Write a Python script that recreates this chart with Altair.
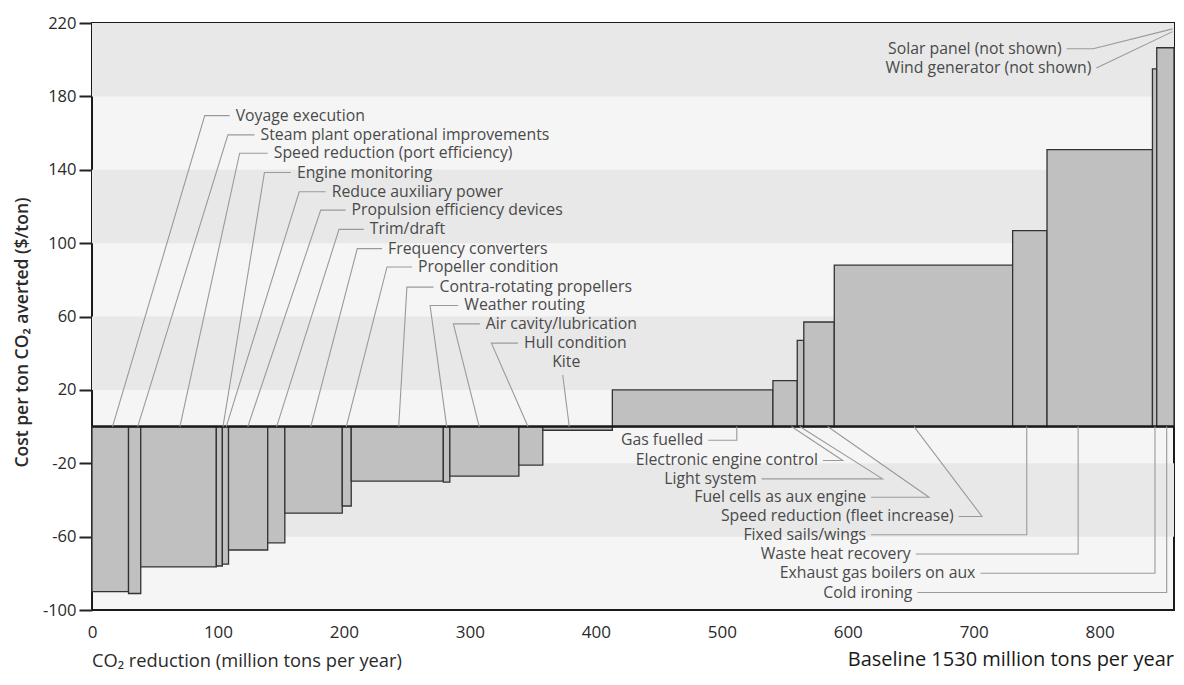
import altair as alt
import pandas as pd

# ---------------- data ----------------
measures = [
    "Voyage execution", "Steam plant operational improvements",
    "Speed reduction (port efficiency)", "Engine monitoring",
    "Reduce auxiliary power", "Propulsion efficiency devices", "Trim/draft",
    "Frequency converters", "Propeller condition", "Contra-rotating propellers",
    "Weather routing", "Air cavity/lubrication", "Hull condition", "Kite",
    "Gas fuelled", "Electronic engine control", "Light system",
    "Fuel cells as aux engine", "Speed reduction (fleet increase)",
    "Fixed sails/wings", "Waste heat recovery", "Exhaust gas boilers on aux",
    "Cold ironing",
]
reduction = [29.0, 9.7, 60.0, 4.8, 4.9, 31.1, 13.6, 45.6, 7.1, 73.1, 5.2, 54.8,
             19.0, 55.2, 127.5, 19.3, 5.2, 24.2, 141.6, 27.3, 83.7, 3.4, 13.7]
cost = [-90, -91, -76.5, -76, -75, -67.3, -63.4, -47.2, -43.3, -29.7, -30.3,
        -27, -21, -2, 20, 25, 47, 57, 88, 106.8, 151, 195, 206.5]
not_shown = ["Solar panel (not shown)", "Wind generator (not shown)"]

x_ticks = [0, 100, 200, 300, 400, 500, 600, 700, 800]
y_ticks = [-100, -60, -20, 20, 60, 100, 140, 180, 220]
band_lo = [-60, 20, 100, 180]
band_size = 40

# ---------------- annotation layout (data units) ----------------
top_n = 13
top_label_y = [169.5, 159, 149, 138.5, 128, 118, 107.5, 97, 87, 76, 66, 56, 45.5]
top_elbow_x = [89.5, 107.9, 117.2, 136.9, 164.5, 181.6, 196.1, 210.6, 234.2,
               250.0, 268.4, 286.9, 317.1]
top_line_end_x = [109.3, 129.0, 139.5, 157.9, 185.5, 201.3, 215.8, 230.3, 254.0,
                  271.1, 290.8, 307.9, 338.2]
top_target_x = [16.3, 36.3, 69.8, 104.0, 106.6, 123.7, 146.6, 173.7, 201.9,
                243.5, 281.6, 307.4, 346.1]
kite_label_xy = [376.5, 35.3]
kite_line_x = [378.9, 373.7]
kite_line_y = [0, 28.1]

bottom_label_y = [-7.5, -18.5, -28.5, -38.5, -49, -59, -69.5, -80, -90.5]
bottom_line_start_x = [489.2, 580.3, 531.6, 618.5, 688.1, 618.5, 654.0, 705.3, 655.3]
bottom_corner_x = [511.9, 596.0, 627.6, 664.5, 706.6, 742.1, 782.9, 843.9, 853.2]
bottom_target_x = [511.9, 555.3, 561.9, 584.0, 652.6, 742.1, 782.9, 843.9, 853.2]

ns_label_y = [206, 195.5]
ns_line_x = [[773.7, 794.8, 857.9], [797.4, 857.9]]
ns_line_y = [[206, 206, 216.8], [195.5, 215.3]]

# ---------------- tables ----------------
ends = pd.Series(reduction).cumsum()
bars = pd.DataFrame({
    "measure": measures,
    "start": ends - pd.Series(reduction),
    "end": ends,
    "cost": cost,
    "base": 0.0,
})
x_max = float(ends.iloc[-1])

bands = pd.DataFrame({"lo": band_lo, "hi": [b + band_size for b in band_lo]})

pts = []
texts = []
for i in range(top_n):
    for k, (xx, yy) in enumerate([(top_target_x[i], 0), (top_elbow_x[i], top_label_y[i]),
                                   (top_line_end_x[i], top_label_y[i])]):
        pts.append({"id": f"t{i}", "ord": k, "x": xx, "y": yy})
    texts.append({"label": measures[i], "x": top_line_end_x[i], "y": top_label_y[i], "side": "top"})
for k in range(2):
    pts.append({"id": "kite", "ord": k, "x": kite_line_x[k], "y": kite_line_y[k]})
for j in range(len(bottom_label_y)):
    i = 14 + j
    for k, (xx, yy) in enumerate([(bottom_target_x[j], 0), (bottom_corner_x[j], bottom_label_y[j]),
                                   (bottom_line_start_x[j], bottom_label_y[j])]):
        pts.append({"id": f"b{j}", "ord": k, "x": xx, "y": yy})
    texts.append({"label": measures[i], "x": bottom_line_start_x[j], "y": bottom_label_y[j], "side": "bottom"})
for j in range(2):
    for k in range(len(ns_line_x[j])):
        pts.append({"id": f"n{j}", "ord": k, "x": ns_line_x[j][k], "y": ns_line_y[j][k]})
    texts.append({"label": not_shown[j], "x": ns_line_x[j][0], "y": ns_label_y[j], "side": "bottom"})
lines = pd.DataFrame(pts)
labels = pd.DataFrame(texts)
kite = pd.DataFrame({"label": [measures[13]], "x": [kite_label_xy[0]], "y": [kite_label_xy[1]]})
zero = pd.DataFrame({"y": [0.0]})

# ---------------- scales / axes ----------------
FONT = "Open Sans"
LABEL_SIZE = 15.8
W, H = 1082, 587
xs = alt.Scale(domain=[0, x_max], nice=False, zero=False)
ys = alt.Scale(domain=[y_ticks[0], y_ticks[-1]], nice=False, zero=False)
xaxis = alt.Axis(values=x_ticks, ticks=False, tickSize=0, domain=False, grid=False,
                 labelFlush=False, labelFont=FONT, labelFontSize=17, labelColor="#2a2a2a",
                 labelPadding=14, title=None)
yaxis = alt.Axis(values=y_ticks, tickSize=13, tickWidth=2, tickColor="#222",
                 domain=False, grid=False, labelFont=FONT, labelFontSize=16.5,
                 labelColor="#2a2a2a", labelPadding=3,
                 labelExpr="'' + datum.value",
                 title="Cost per ton CO₂ averted ($/ton)", titleFont=FONT,
                 titleFontSize=17.5, titleColor="#2a2a2a", titleFontWeight=600,
                 titleX=-70, titleY=309, titleBaseline="middle")


def X(f):
    return alt.X(f, type="quantitative", scale=xs, axis=xaxis)


def Y(f):
    return alt.Y(f, type="quantitative", scale=ys, axis=yaxis)


band_layer = alt.Chart(bands).mark_rect(fill="#e8e8e8").encode(
    x=alt.value(0), x2=alt.value("width"), y=Y("lo"), y2="hi")

bar_layer = alt.Chart(bars).mark_rect(fill="#c0c0c0", stroke="#333", strokeWidth=1.3).encode(
    x=X("start"), x2="end", y=Y("base"), y2="cost", tooltip=["measure", "cost"])

zero_layer = alt.Chart(zero).mark_rule(color="#1a1a1a", strokeWidth=2.5).encode(y=Y("y"))

line_layer = alt.Chart(lines).mark_line(color="#9a9a9a", strokeWidth=1.1).encode(
    x=X("x"), y=Y("y"), detail="id:N", order="ord:Q")

top_text = alt.Chart(labels[labels.side == "top"]).mark_text(
    align="left", baseline="middle", dx=6, font=FONT, fontSize=LABEL_SIZE, color="#4a4a4a").encode(
    x=X("x"), y=Y("y"), text="label:N")

bottom_text = alt.Chart(labels[labels.side == "bottom"]).mark_text(
    align="right", baseline="middle", dx=-5, font=FONT, fontSize=LABEL_SIZE, color="#4a4a4a").encode(
    x=X("x"), y=Y("y"), text="label:N")

kite_text = alt.Chart(kite).mark_text(
    align="center", baseline="middle", font=FONT, fontSize=LABEL_SIZE, color="#4a4a4a").encode(
    x=X("x"), y=Y("y"), text="label:N")

xtitle = alt.Chart(pd.DataFrame({"t": ["CO₂ reduction (million tons per year)"]})).mark_text(
    align="left", baseline="alphabetic", font=FONT, fontSize=18.3, color="#2a2a2a").encode(
    x=alt.value(0), y=alt.value(H + 57), text="t:N")

baseline_title = alt.Chart(pd.DataFrame({"t": ["Baseline 1530 million tons per year"]})).mark_text(
    align="right", baseline="alphabetic", font=FONT, fontSize=20, color="#1a1a1a").encode(
    x=alt.value("width"), y=alt.value(H + 56), text="t:N")

chart = alt.layer(
    band_layer, bar_layer, zero_layer, line_layer, top_text, bottom_text, kite_text,
    xtitle, baseline_title,
).properties(
    width=W, height=H,
    autosize=alt.AutoSizeParams(type="none"),
    padding={"left": 84, "top": 15, "right": 2, "bottom": 61},
    background="white",
).configure_view(stroke="#1a1a1a", strokeWidth=2, fill="#f5f5f5")

chart.save("out.html", embed_options={"renderer": "svg", "actions": False})
